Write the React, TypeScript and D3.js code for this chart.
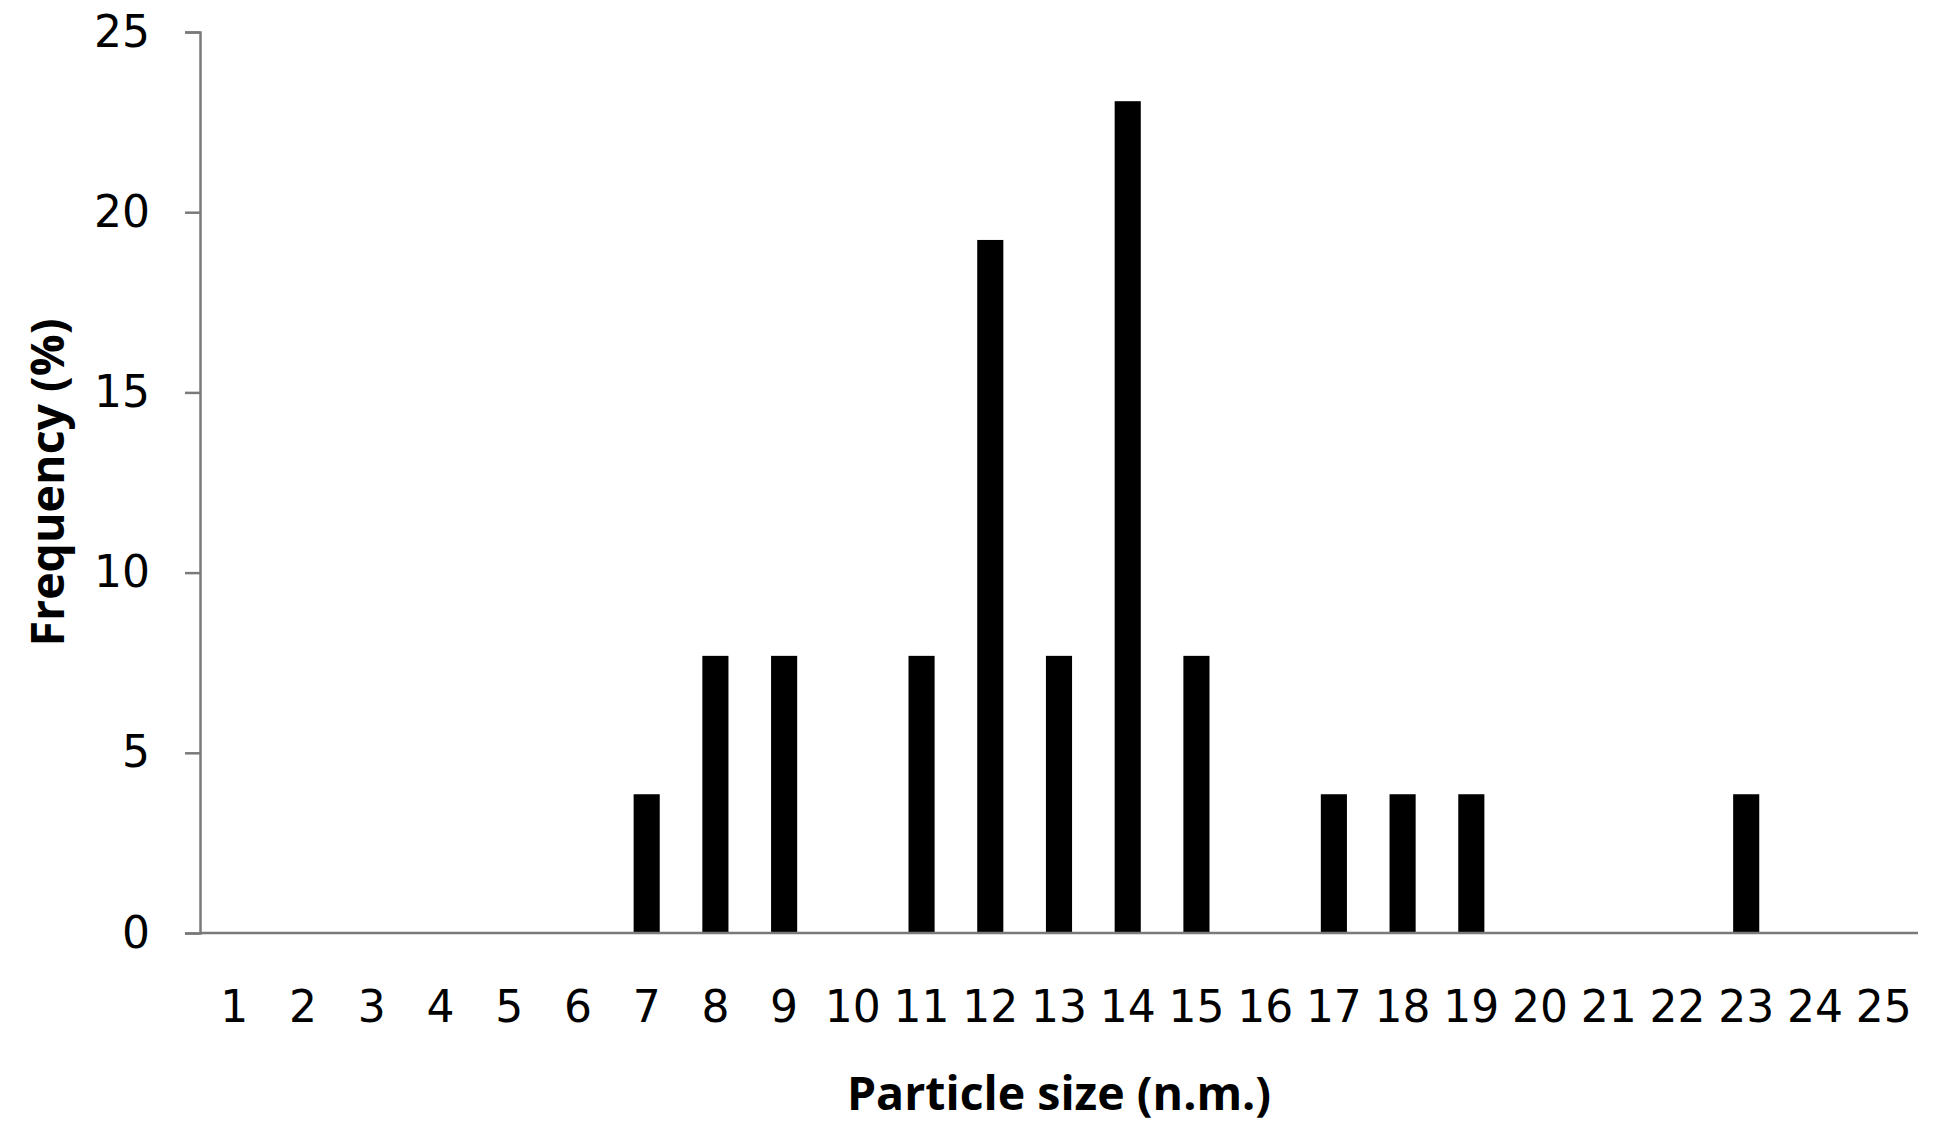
import React, { useEffect, useRef } from "react";
import * as d3 from "d3";

// particle size bins (n.m.)
const sizes = Array.from({ length: 25 }, (_, i) => String(i + 1));
// frequency (%) per bin
const frequency = [
  0, 0, 0, 0, 0, 0, 3.85, 7.69, 7.69, 0, 7.69, 19.23, 7.69, 23.08, 7.69, 0,
  3.85, 3.85, 3.85, 0, 0, 0, 3.85, 0, 0,
];
const yTicks = [0, 5, 10, 15, 20, 25];

const App = () => {
  const svgRef = useRef<SVGSVGElement>(null);

  useEffect(() => {
    const width = 1950;
    const height = 1132;
    const margin = { top: 32, right: 32, bottom: 199, left: 200 };

    const svg = d3.select(svgRef.current);
    svg.selectAll("*").remove();

    const g = svg
      .append("g")
      .attr("transform", `translate(${margin.left},${margin.top})`);

    const w = width - margin.left - margin.right;
    const h = height - margin.top - margin.bottom;

    const x = d3.scaleBand().domain(sizes).range([0, w]).paddingInner(0.62).paddingOuter(0.31);
    const y = d3.scaleLinear().domain([0, 25]).range([h, 0]);

    // bars
    g.selectAll("rect")
      .data(frequency)
      .join("rect")
      .attr("x", (_, i) => x(sizes[i])!)
      .attr("y", (d) => y(d))
      .attr("width", x.bandwidth())
      .attr("height", (d) => h - y(d))
      .attr("fill", "#000");

    // y axis
    const yAxis = g
      .append("g")
      .call(d3.axisLeft(y).tickValues(yTicks).tickSize(15).tickPadding(35));
    yAxis.select(".domain").attr("stroke", "#7a7a7a").attr("stroke-width", 2.5);
    yAxis.selectAll(".tick line").attr("stroke", "#7a7a7a").attr("stroke-width", 2.5);
    yAxis
      .selectAll(".tick text")
      .attr("font-family", "DejaVu Sans")
      .attr("font-size", 44)
      .attr("fill", "#000");

    // x axis
    const xAxis = g
      .append("g")
      .attr("transform", `translate(0,${h})`)
      .call(d3.axisBottom(x).tickSize(0).tickPadding(58));
    xAxis
      .select(".domain")
      .attr("stroke", "#7a7a7a")
      .attr("stroke-width", 2.5)
      .attr("d", `M0,0H${w}`);
    xAxis
      .selectAll(".tick text")
      .attr("font-family", "DejaVu Sans")
      .attr("font-size", 44)
      .attr("fill", "#000");

    // axis titles
    svg
      .append("text")
      .attr("x", margin.left + w / 2)
      .attr("y", 1110)
      .attr("text-anchor", "middle")
      .attr("font-family", "Open Sans")
      .attr("font-weight", "bold")
      .attr("font-size", 46.5)
      .text("Particle size (n.m.)");

    svg
      .append("text")
      .attr("transform", `translate(64,${margin.top + h / 2}) rotate(-90)`)
      .attr("text-anchor", "middle")
      .attr("font-family", "Open Sans")
      .attr("font-weight", "bold")
      .attr("font-size", 46.5)
      .text("Frequency (%)");
  }, []);

  return (
    <svg
      ref={svgRef}
      width={1950}
      height={1132}
      style={{ position: "absolute", left: 0, top: 0, background: "#fff" }}
    />
  );
};

export default App;
